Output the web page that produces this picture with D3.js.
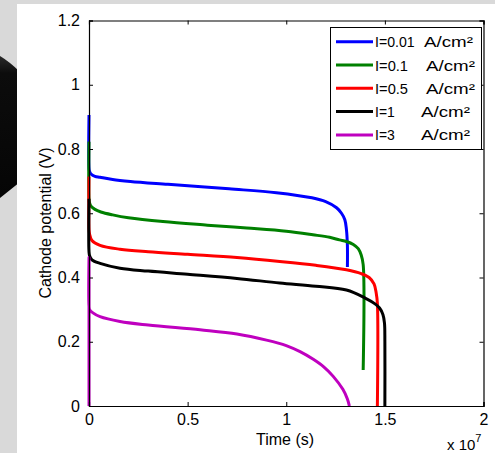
<!DOCTYPE html>
<html>
<head>
<meta charset="utf-8">
<script src="https://cdn.jsdelivr.net/npm/d3@7"></script>
<style>
  body { margin: 0; background: #d9d9d9; }
  svg { display: block; }
  text { font-family: "Liberation Sans", Arial, sans-serif; fill: #000; }
</style>
</head>
<body>
<svg id="chart" width="495" height="453"></svg>
<script>
// ---- data (time in units of 1e7 s, potential in V) ----
const seriesNames = ["I=0.01", "I=0.1", "I=0.5", "I=1", "I=3"];
const unitLabel = "A/cm²";
const seriesColors = ["#0000ff", "#008000", "#ff0000", "#000000", "#bf00bf"];

const t001 = [0, 0, 0.003, 0.01, 0.03, 0.056, 0.12, 0.21, 0.4, 0.71, 0.95, 1.13, 1.2, 1.255, 1.28, 1.297, 1.305, 1.31, 1.31];
const v001 = [0.906, 0.74, 0.73, 0.722, 0.715, 0.712, 0.705, 0.699, 0.69, 0.676, 0.664, 0.648, 0.636, 0.617, 0.60, 0.58, 0.55, 0.50, 0.433];

const t01 = [0, 0, 0.003, 0.01, 0.03, 0.06, 0.12, 0.2, 0.375, 0.6, 0.8, 1.0, 1.135, 1.22, 1.27, 1.305, 1.34, 1.365, 1.38, 1.39, 1.39];
const v01 = [0.823, 0.645, 0.632, 0.622, 0.612, 0.604, 0.595, 0.586, 0.574, 0.563, 0.554, 0.544, 0.533, 0.525, 0.517, 0.512, 0.503, 0.49, 0.47, 0.44, 0.112];

const t05 = [0, 0, 0.003, 0.015, 0.056, 0.157, 0.3, 0.5, 0.75, 0.967, 1.15, 1.305, 1.38, 1.42, 1.445, 1.456, 1.462, 1.462];
const v05 = [0.714, 0.55, 0.535, 0.515, 0.50, 0.488, 0.48, 0.472, 0.462, 0.45, 0.438, 0.424, 0.412, 0.40, 0.38, 0.352, 0.32, 0];

const t1 = [0, 0, 0.003, 0.015, 0.056, 0.157, 0.3, 0.5, 0.75, 0.967, 1.15, 1.305, 1.40, 1.45, 1.473, 1.49, 1.498, 1.50, 1.50];
const v1 = [0.645, 0.48, 0.468, 0.455, 0.444, 0.429, 0.42, 0.41, 0.397, 0.383, 0.373, 0.361, 0.336, 0.318, 0.305, 0.285, 0.258, 0.2, 0];

const t3 = [0, 0, 0, 0.003, 0.02, 0.056, 0.157, 0.3, 0.563, 0.75, 0.9, 1.0, 1.07, 1.135, 1.19, 1.237, 1.287, 1.31, 1.32];
const v3 = [0, 0.462, 0.31, 0.30, 0.29, 0.278, 0.263, 0.252, 0.237, 0.224, 0.205, 0.188, 0.169, 0.146, 0.122, 0.093, 0.052, 0.022, 0];

const xTicks = [0, 0.5, 1, 1.5, 2];
const xTickLabels = ["0", "0.5", "1", "1.5", "2"];
const yTicks = [0, 0.2, 0.4, 0.6, 0.8, 1, 1.2];
const yTickLabels = ["0", "0.2", "0.4", "0.6", "0.8", "1", "1.2"];

const seriesT = [t001, t01, t05, t1, t3];
const seriesV = [v001, v01, v05, v1, v3];

// ---- drawing ----
const svg = d3.select("#chart");

// dark blob on the left behind the panel
const defs = svg.append("defs");
const grad = defs.append("linearGradient").attr("id", "blobg").attr("x1", 0).attr("y1", 0).attr("x2", 0).attr("y2", 1);
grad.append("stop").attr("offset", "0%").attr("stop-color", "#2a2a2a");
grad.append("stop").attr("offset", "12%").attr("stop-color", "#0c0c0c");
grad.append("stop").attr("offset", "100%").attr("stop-color", "#050505");
svg.append("path")
  .attr("d", "M0,56 Q10,62 20,72 L20,182 Q10,190 0,198 Z")
  .attr("fill", "url(#blobg)");

// white panel
svg.append("rect").attr("x", 17).attr("y", 4).attr("width", 478).attr("height", 449).attr("fill", "#ffffff");

const x = d3.scaleLinear().domain([0, 2]).range([89, 483.5]);
const y = d3.scaleLinear().domain([0, 1.2]).range([406, 20.5]);

// lines
const line = d3.line().x(d => x(d[0])).y(d => y(d[1])).curve(d3.curveCatmullRom.alpha(0.5));
seriesT.forEach((ts, i) => {
  const pts = ts.map((t, j) => [t, seriesV[i][j]]);
  svg.append("path").datum(pts)
    .attr("d", line)
    .attr("fill", "none")
    .attr("stroke", seriesColors[i])
    .attr("stroke-width", 3)
    .attr("stroke-linejoin", "round");
});

// axes (ticks inside, mirrored)
const fs = "16px";
const gB = svg.append("g").attr("transform", `translate(0,${y(0)})`)
  .call(d3.axisBottom(x).tickValues(xTicks).tickSize(-4).tickPadding(8)
    .tickFormat((d, i) => xTickLabels[i]));
const gL = svg.append("g").attr("transform", `translate(${x(0)},0)`)
  .call(d3.axisLeft(y).tickValues(yTicks).tickSize(-4).tickPadding(9)
    .tickFormat((d, i) => yTickLabels[i]));
const gT = svg.append("g").attr("transform", `translate(0,${y(1.2)})`)
  .call(d3.axisTop(x).tickValues(xTicks).tickSize(-4).tickFormat(""));
const gR = svg.append("g").attr("transform", `translate(${x(2)},0)`)
  .call(d3.axisRight(y).tickValues(yTicks).tickSize(-4).tickFormat(""));
[gB, gL, gT, gR].forEach(g => {
  g.select(".domain").attr("stroke", "#000").attr("stroke-width", 1.2);
  g.selectAll(".tick line").attr("stroke", "#000");
  g.selectAll("text").style("font-size", fs).style("font-family", '"Liberation Sans", Arial, sans-serif').attr("fill", "#000");
});

// axis labels
svg.append("text").attr("x", 285).attr("y", 445).attr("text-anchor", "middle")
  .style("font-size", "16px").text("Time (s)");
svg.append("text").attr("transform", "translate(51,223) rotate(-90)").attr("text-anchor", "middle")
  .style("font-size", "16px").text("Cathode potential (V)");
const ex = svg.append("text").attr("x", 447).attr("y", 450).style("font-size", "15px");
ex.append("tspan").text("x 10");
ex.append("tspan").attr("dy", -8).style("font-size", "11px").text("7");

// legend
const lg = svg.append("g");
lg.append("rect").attr("x", 330.5).attr("y", 27.5).attr("width", 151).attr("height", 122)
  .attr("fill", "#fff").attr("stroke", "#000").attr("stroke-width", 1);
const unitX = [424, 426, 426, 421, 421];
seriesNames.forEach((nm, i) => {
  const cy = 41.7 + i * 23.3;
  lg.append("line").attr("x1", 336).attr("x2", 373).attr("y1", cy).attr("y2", cy)
    .attr("stroke", seriesColors[i]).attr("stroke-width", 3);
  lg.append("text").attr("x", 375).attr("y", cy + 5.5).style("font-size", "15px")
    .attr("textLength", nm.length * 6.6).attr("lengthAdjust", "spacingAndGlyphs").text(nm);
  lg.append("text").attr("x", unitX[i]).attr("y", cy + 5.5).style("font-size", "15px")
    .attr("textLength", 49).attr("lengthAdjust", "spacingAndGlyphs").text(unitLabel);
});
</script>
</body>
</html>
